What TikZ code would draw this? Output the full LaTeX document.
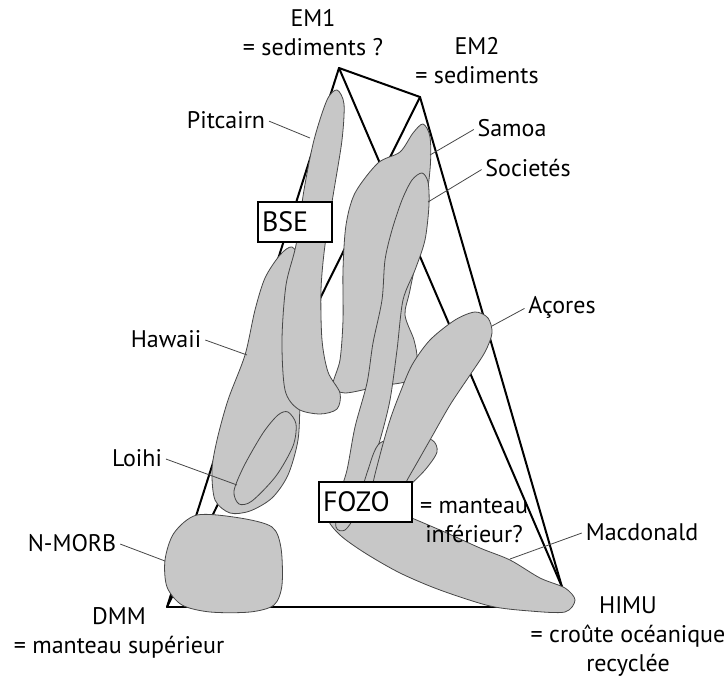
\documentclass[tikz,border=0pt]{standalone}
\usepackage{fontspec}
\setmainfont{PT Sans}
\usetikzlibrary{positioning}

\begin{document}
\begin{tikzpicture}[
        x=1pt, y=-1pt,
        edge/.style={line width=2pt, line cap=round, black},
        blob/.style={fill=black!22, draw=black!72, line width=0.8pt},
        leader/.style={draw=black!72, line width=0.8pt, shorten <=3pt},
        lbl/.style={font=\fontsize{24}{29}\selectfont, inner sep=1pt, align=center},
        tag/.style={draw, line width=1.8pt, fill=white, font=\fontsize{28}{30}\selectfont, minimum height=40pt, inner xsep=4pt, align=left}
    ]
        \path[use as bounding box] (0,0) rectangle (728,679);

        \coordinate (em1v) at (339,68);
        \coordinate (em2v) at (420,97);
        \coordinate (dmmv) at (167,607);
        \coordinate (himuv) at (562,587);
        \coordinate (basev) at (560,607);

        \draw[edge] (em1v) -- (em2v);
        \draw[edge] (em1v) -- (dmmv);
        \draw[edge] (em1v) -- (himuv);
        \draw[edge] (em2v) -- (dmmv);
        \draw[edge] (em2v) -- (himuv);
        \draw[edge] (dmmv) -- (basev);

        \draw[blob] plot[smooth cycle] coordinates {(292,247) (300,262) (302,300) (301,350) (300,400) (298,440) (288,475) (272,498) (250,511) (230,513) (215,500) (212,470) (217,440) (228,400) (245,355) (255,310) (265,278) (280,255)};
        \draw[blob] plot[smooth cycle] coordinates {(423,124) (430,137) (430,170) (422,230) (410,290) (405,315) (414,340) (417,360) (410,380) (380,386) (345,393) (333,385) (340,360) (343,320) (343,270) (346,225) (355,193) (378,163) (400,152) (413,133)};
        \draw[blob] plot[smooth cycle] coordinates {(337,90) (344,104) (342,140) (334,190) (325,245) (321,290) (322,340) (328,372) (340,393) (337,409) (320,414) (298,409) (285,390) (282,340) (286,285) (296,245) (304,190) (314,140) (327,100)};
        \draw[blob] plot[smooth cycle] coordinates {(288,412) (296,424) (293,446) (276,476) (252,501) (239,504) (234,491) (244,466) (263,433) (278,415)};
        \draw[blob] plot[smooth cycle] coordinates {(340,500) (390,510) (440,530) (480,548) (510,560) (540,578) (565,588) (575,600) (565,612) (530,611) (490,606) (440,590) (400,573) (365,553) (340,535) (328,518)};
        \draw[blob] plot[smooth cycle] coordinates {(422,173) (428,182) (429,205) (425,240) (415,270) (403,300) (397,350) (390,400) (380,440) (367,480) (355,515) (345,530) (336,527) (338,500) (347,470) (355,427) (367,383) (373,343) (382,300) (385,260) (392,230) (402,200) (412,180)};
        \draw[blob] plot[smooth cycle] coordinates {(380,443) (410,438) (432,440) (437,452) (425,470) (405,490) (385,510) (365,515) (360,500) (368,470)};
        \draw[blob] plot[smooth cycle] coordinates {(475,312) (488,318) (492,333) (485,352) (470,375) (450,405) (430,440) (410,475) (395,500) (378,505) (372,490) (380,455) (390,420) (400,393) (412,365) (430,340) (455,320)};
        \draw[blob] plot[smooth cycle] coordinates {(197,515) (240,518) (272,527) (281,548) (282,585) (274,605) (250,612) (210,612) (182,605) (167,587) (165,560) (174,533)};

        \node[tag, text width=66pt] (bse) at (295,222) {BSE};
        \node[tag, text width=85pt] (fozo) at (365.5,502) {FOZO};

        \node[lbl] (em1) at (313,33) {EM1\\= sediments ?};
        \node[lbl] (em2) at (477,61) {EM2\\= sediments};
        \node[lbl] (dmm) at (119,633) {DMM\\= manteau supérieur};
        \node[lbl] (himu) at (628,637) {HIMU\\= croûte océanique\\recyclée};
        \node[lbl] (lower) at (474,521) {= manteau\\inférieur?};

        \node[lbl] (pitcairn) at (226,120) {Pitcairn};
        \node[lbl] (samoa) at (512,128) {Samoa};
        \node[lbl] (societes) at (528,168) {Societés};
        \node[lbl] (acores) at (562,307) {Açores};
        \node[lbl] (hawaii) at (166,339) {Hawaii};
        \node[lbl] (loihi) at (137,458) {Loihi};
        \node[lbl] (nmorb) at (72,543) {N-MORB};
        \node[lbl] (macdonald) at (642,532) {Macdonald};

        \coordinate (pitcairn-end) at (310,138);
        \coordinate (samoa-end) at (430,155);
        \coordinate (societes-end) at (428,202);
        \coordinate (acores-end) at (492,326);
        \coordinate (hawaii-end) at (247,355);
        \coordinate (loihi-end) at (237,485);
        \coordinate (nmorb-end) at (165,561);
        \coordinate (macdonald-end) at (510,559);

        \draw[leader] (pitcairn.east) -- (pitcairn-end);
        \draw[leader] (samoa.west) -- (samoa-end);
        \draw[leader] (societes.west) -- (societes-end);
        \draw[leader] (acores.west) -- (acores-end);
        \draw[leader] (hawaii.east) -- (hawaii-end);
        \draw[leader] (loihi.east) -- (loihi-end);
        \draw[leader] (nmorb.east) -- (nmorb-end);
        \draw[leader] (macdonald.west) -- (macdonald-end);
    \end{tikzpicture}
\end{document}
